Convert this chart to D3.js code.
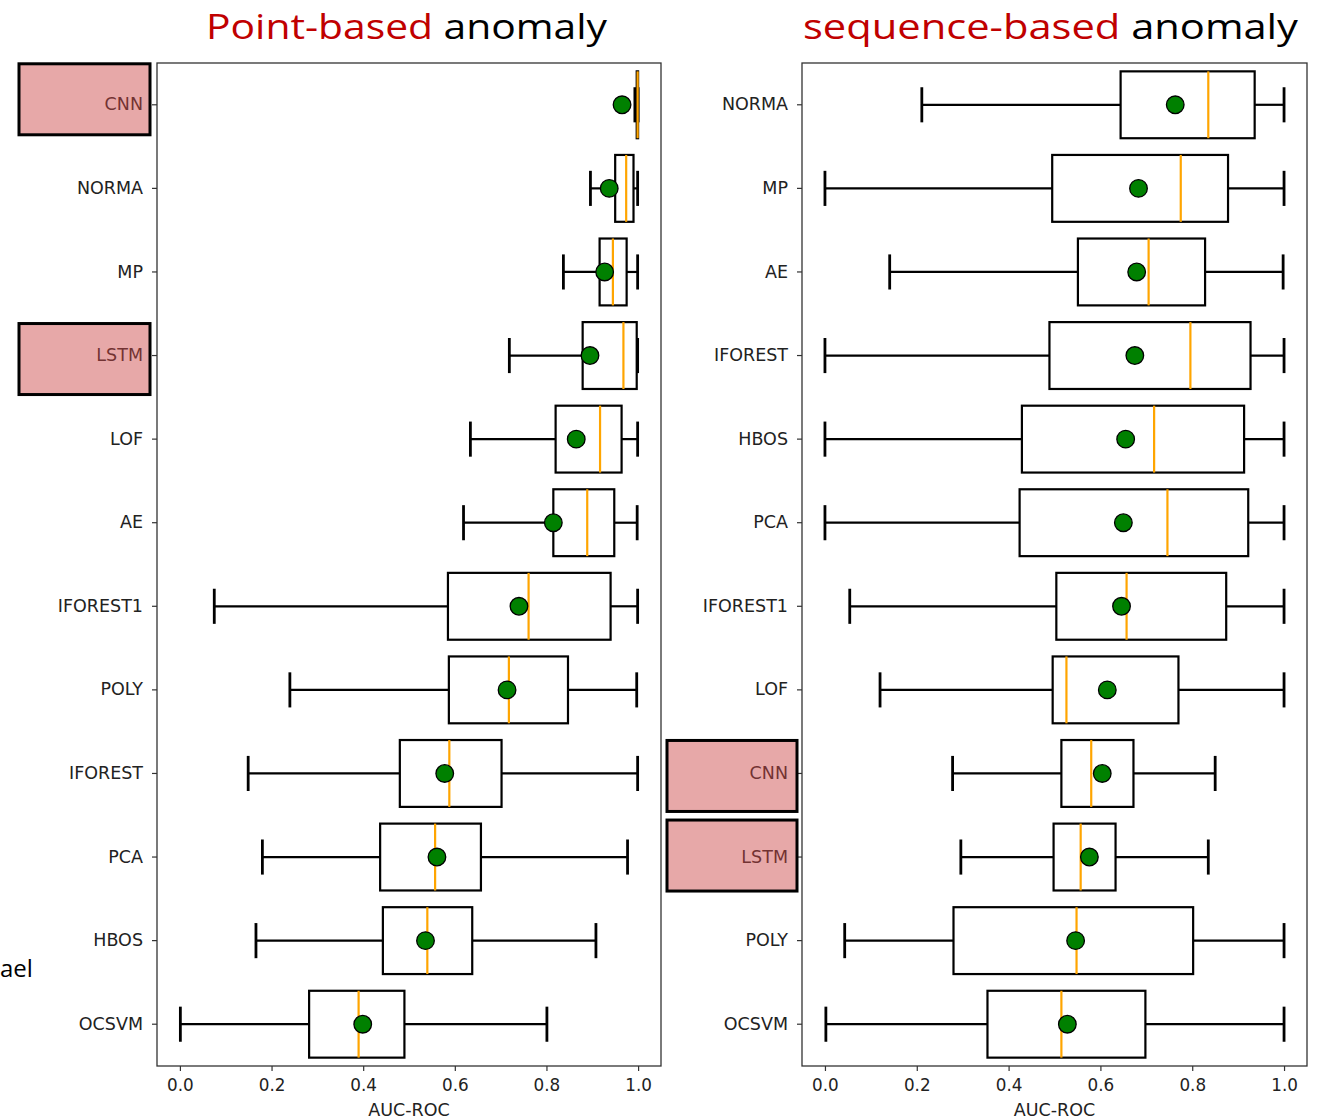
<!DOCTYPE html>
<html>
<head>
<meta charset="utf-8">
<script src="https://cdn.jsdelivr.net/npm/d3@7"></script>
<style>
  html, body { margin: 0; padding: 0; background: #fff; }
  svg { display: block; }
</style>
</head>
<body>
<svg id="chart" width="1317" height="1120"></svg>
<script>
// ---------------- DATA ----------------
// Point-based anomaly panel (top to bottom)
const pointNames   = ["CNN","NORMA","MP","LSTM","LOF","AE","IFOREST1","POLY","IFOREST","PCA","HBOS","OCSVM"];
const pointWhisLo  = [0.993,0.896,0.837,0.719,0.634,0.619,0.075,0.240,0.149,0.180,0.166,0.001];
const pointQ1      = [0.997,0.950,0.916,0.879,0.820,0.815,0.585,0.587,0.480,0.437,0.443,0.282];
const pointMedian  = [0.999,0.974,0.945,0.968,0.917,0.889,0.761,0.718,0.588,0.557,0.540,0.390];
const pointQ3      = [1.000,0.990,0.975,0.997,0.964,0.948,0.940,0.847,0.702,0.657,0.638,0.490];
const pointWhisHi  = [1.000,0.999,0.999,0.999,0.999,0.998,0.999,0.997,0.999,0.977,0.908,0.801];
const pointMean    = [0.965,0.937,0.927,0.895,0.865,0.815,0.740,0.714,0.578,0.561,0.536,0.399];

// Sequence-based anomaly panel (top to bottom)
const seqNames     = ["NORMA","MP","AE","IFOREST","HBOS","PCA","IFOREST1","LOF","CNN","LSTM","POLY","OCSVM"];
const seqWhisLo    = [0.211,0.000,0.141,0.000,0.000,0.000,0.054,0.120,0.278,0.296,0.043,0.002];
const seqQ1        = [0.644,0.495,0.551,0.489,0.429,0.424,0.504,0.496,0.515,0.498,0.280,0.354];
const seqMedian    = [0.835,0.775,0.705,0.796,0.717,0.746,0.657,0.526,0.580,0.557,0.548,0.515];
const seqQ3        = [0.936,0.878,0.828,0.927,0.913,0.922,0.874,0.770,0.672,0.633,0.802,0.698];
const seqWhisHi    = [1.000,1.000,0.998,1.000,1.000,1.000,1.000,1.000,0.850,0.835,1.000,1.000];
const seqMean      = [0.763,0.683,0.679,0.675,0.655,0.650,0.646,0.615,0.604,0.576,0.546,0.528];

const xTicks = [0.0, 0.2, 0.4, 0.6, 0.8, 1.0];
const xLabel = "AUC-ROC";
const pointHighlights = ["CNN","LSTM"];
const seqHighlights   = ["CNN","LSTM"];

// ---------------- LAYOUT ----------------
const svg = d3.select("#chart");
const PANEL_TOP = 63, PANEL_BOTTOM = 1066;
const panels = [
  { names: pointNames, lo: pointWhisLo, q1: pointQ1, med: pointMedian, q3: pointQ3, hi: pointWhisHi, mean: pointMean,
    left: 157, right: 661, highlights: pointHighlights, hlDy: [[-41,30],[-32,39]], hlX: [-138,-7],
    title: [["Point-based", "#C00000"], [" anomaly", "#000"]], titleX: [206, 607] },
  { names: seqNames, lo: seqWhisLo, q1: seqQ1, med: seqMedian, q3: seqQ3, hi: seqWhisHi, mean: seqMean,
    left: 802, right: 1307, highlights: seqHighlights, hlDy: [[-33,38],[-37,34]], hlX: [-135,-5],
    title: [["sequence-based", "#C00000"], [" anomaly", "#000"]], titleX: [803, 1298] }
];

const tickFont = "'DejaVu Sans', sans-serif";

panels.forEach(p => {
  const x = d3.scaleLinear().domain([-0.05, 1.05]).range([p.left, p.right]);
  const y = d3.scaleBand().domain(p.names).range([PANEL_TOP, PANEL_BOTTOM]).paddingInner(0).paddingOuter(0);
  const bw = y.bandwidth();
  const boxH = bw * 0.8;
  const capH = bw * 0.42;
  const cy = n => y(n) + bw / 2;

  const g = svg.append("g");

  // y axis
  const yAxis = d3.axisLeft(y).tickSizeInner(5).tickSizeOuter(0).tickPadding(9);
  const yg = g.append("g").attr("transform", `translate(${p.left},0)`).call(yAxis);
  yg.select(".domain").remove();
  yg.selectAll("line").attr("stroke", "#333").attr("stroke-width", 1.2);
  yg.selectAll("text").attr("font-family", tickFont).attr("font-size", 17.5).attr("fill", "#222");

  // x axis
  const xAxis = d3.axisBottom(x).tickValues(xTicks).tickFormat(d3.format(".1f")).tickSizeInner(5).tickSizeOuter(0).tickPadding(8);
  const xg = g.append("g").attr("transform", `translate(0,${PANEL_BOTTOM})`).call(xAxis);
  xg.select(".domain").remove();
  xg.selectAll("line").attr("stroke", "#333").attr("stroke-width", 1.2);
  xg.selectAll("text").attr("font-family", tickFont).attr("font-size", 16.8).attr("fill", "#222");

  g.append("text")
    .attr("x", (p.left + p.right) / 2).attr("y", 1116)
    .attr("text-anchor", "middle")
    .attr("font-family", tickFont).attr("font-size", 17.5).attr("fill", "#222")
    .text(xLabel);

  // frame
  g.append("rect")
    .attr("x", p.left).attr("y", PANEL_TOP)
    .attr("width", p.right - p.left).attr("height", PANEL_BOTTOM - PANEL_TOP)
    .attr("fill", "none").attr("stroke", "#333").attr("stroke-width", 1.3);

  // boxes
  p.names.forEach((n, i) => {
    const c = cy(n);
    const lw = 2.2;
    g.append("line").attr("x1", x(p.lo[i])).attr("x2", x(p.q1[i])).attr("y1", c).attr("y2", c)
      .attr("stroke", "#000").attr("stroke-width", lw);
    g.append("line").attr("x1", x(p.q3[i])).attr("x2", x(p.hi[i])).attr("y1", c).attr("y2", c)
      .attr("stroke", "#000").attr("stroke-width", lw);
    [p.lo[i], p.hi[i]].forEach(v => {
      g.append("line").attr("x1", x(v)).attr("x2", x(v)).attr("y1", c - capH / 2).attr("y2", c + capH / 2)
        .attr("stroke", "#000").attr("stroke-width", lw + 0.6);
    });
    g.append("rect")
      .attr("x", x(p.q1[i])).attr("y", c - boxH / 2)
      .attr("width", Math.max(0, x(p.q3[i]) - x(p.q1[i]))).attr("height", boxH)
      .attr("fill", "none").attr("stroke", "#000").attr("stroke-width", lw);
    g.append("line").attr("x1", x(p.med[i])).attr("x2", x(p.med[i]))
      .attr("y1", c - boxH / 2).attr("y2", c + boxH / 2)
      .attr("stroke", "#FFA500").attr("stroke-width", 2.2);
    g.append("circle").attr("cx", x(p.mean[i])).attr("cy", c).attr("r", 8.8)
      .attr("fill", "#008000").attr("stroke", "#000").attr("stroke-width", 1.3);
  });

  // highlight rectangles over labels
  p.highlights.forEach((n, k) => {
    const c = cy(n);
    const [d0, d1] = p.hlDy[k];
    g.append("rect")
      .attr("x", p.left + p.hlX[0]).attr("y", c + d0)
      .attr("width", p.hlX[1] - p.hlX[0]).attr("height", d1 - d0)
      .attr("fill", "rgb(205,70,70)").attr("fill-opacity", 0.47)
      .attr("stroke", "#000").attr("stroke-width", 3);
  });

  // title: fixed size, stretched to the reference width
  const t = svg.append("text").attr("x", p.titleX[0]).attr("y", 39)
    .attr("font-family", "'Open Sans', 'Noto Sans', sans-serif").attr("font-size", 34)
    .attr("textLength", p.titleX[1] - p.titleX[0]).attr("lengthAdjust", "spacingAndGlyphs");
  p.title.forEach(([s, col]) => t.append("tspan").attr("fill", col).text(s));
});

// stray fragment of text on the left margin
svg.append("text").attr("x", 0).attr("y", 977)
  .attr("font-family", "'Open Sans', 'Noto Sans', sans-serif").attr("font-size", 24).attr("fill", "#000")
  .text("ael");
</script>
</body>
</html>
